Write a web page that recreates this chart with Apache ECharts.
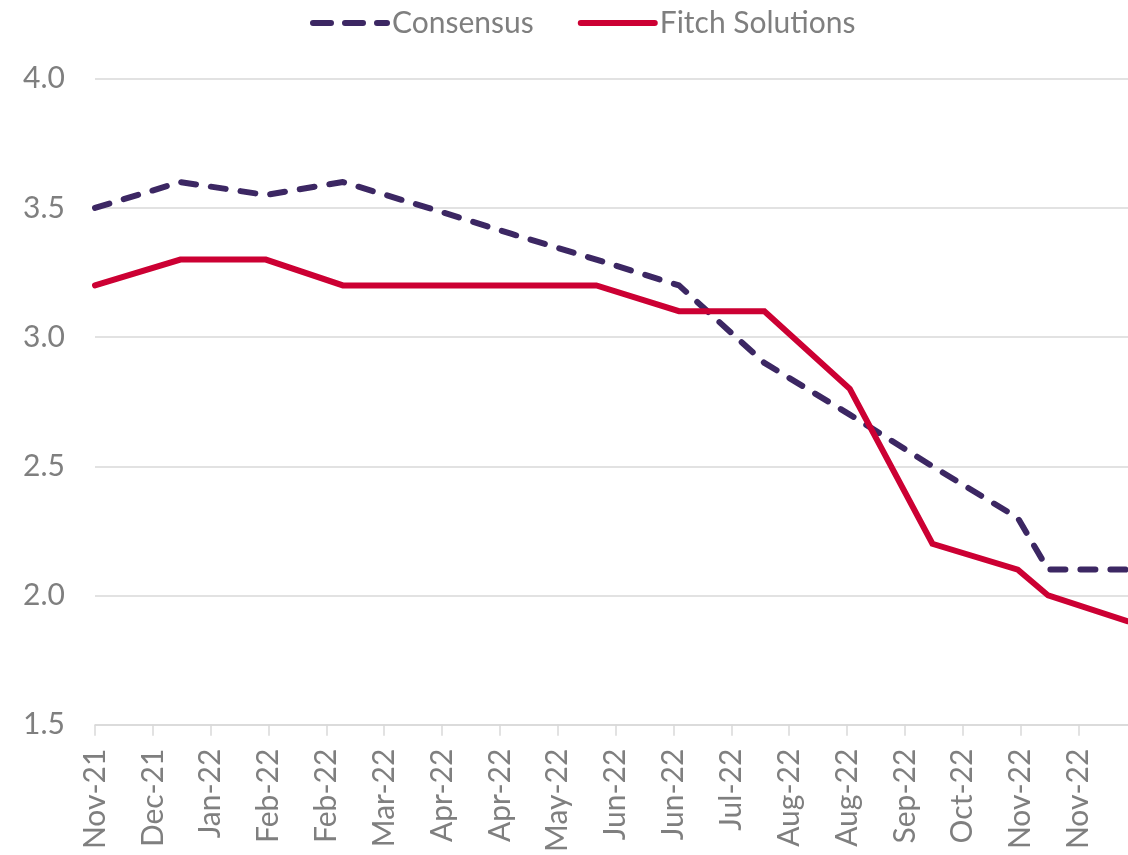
<!DOCTYPE html>
<html>
<head>
<meta charset="utf-8">
<script src="https://cdn.jsdelivr.net/npm/echarts@6/dist/echarts.min.js"></script>
<style>
html,body{margin:0;padding:0;background:#fff;}
#chart{width:1128px;height:855px;}
</style>
</head>
<body>
<div id="chart"></div>
<script>
// Axis ticks: one label every 21 days starting 30 Nov 2021
const startDate = '2021-11-30';
const tickStepDays = 21;
const tickLabels = ['Nov-21','Dec-21','Jan-22','Feb-22','Feb-22','Mar-22','Apr-22','Apr-22','May-22',
  'Jun-22','Jun-22','Jul-22','Aug-22','Aug-22','Sep-22','Oct-22','Nov-22','Nov-22'];
const yTicks = [1.5, 2.0, 2.5, 3.0, 3.5, 4.0];

const consensusDates = ['2021-11-30','2021-12-31','2022-01-31','2022-02-28','2022-03-31','2022-04-30',
  '2022-05-31','2022-06-30','2022-07-31','2022-08-31','2022-09-30','2022-10-31','2022-11-11','2022-12-10'];
const consensusValues = [3.5, 3.6, 3.55, 3.6, 3.5, 3.4, 3.3, 3.2, 2.9, 2.7, 2.5, 2.3, 2.1, 2.1];

const fitchDates = ['2021-11-30','2021-12-31','2022-01-31','2022-02-28','2022-03-31','2022-04-30',
  '2022-05-31','2022-06-30','2022-07-31','2022-08-31','2022-09-30','2022-10-31','2022-11-11','2022-12-10'];
const fitchValues = [3.2, 3.3, 3.3, 3.2, 3.2, 3.2, 3.2, 3.1, 3.1, 2.8, 2.2, 2.1, 2.0, 1.9];

const DAY = 86400000;
const t0 = Date.parse(startDate);
const toDay = d => Math.round((Date.parse(d) - t0) / DAY);
const pairs = (dates, vals) => dates.map((d, i) => [toDay(d), vals[i]]);
const tickValues = tickLabels.map((_, i) => i * tickStepDays);

const grey = '#7f7f7f';
const gridGrey = '#d9d9d9';
const purple = '#3c2763';
const red = '#cc0033';

const chart = echarts.init(document.getElementById('chart'));
chart.setOption({
  animation: false,
  textStyle: { fontFamily: 'Lato' },
  legend: {
    left: 305, top: 3,
    itemWidth: 74, itemHeight: 14, itemGap: 44,
    textStyle: { fontFamily: 'Lato', fontSize: 30, color: grey },
    data: [
      { name: 'Consensus', itemStyle: { opacity: 0 },
        lineStyle: { color: purple, width: 6, type: [18, 14], cap: 'round' } },
      { name: 'Fitch Solutions', itemStyle: { opacity: 0 },
        lineStyle: { color: red, width: 6, cap: 'round' } }
    ]
  },
  grid: { left: 95, right: 0, top: 78.7, bottom: 130, containLabel: false },
  xAxis: {
    type: 'value',
    min: 0,
    max: 'dataMax',
    interval: tickStepDays,
    splitLine: { show: false },
    axisLine: { show: true, lineStyle: { color: gridGrey, width: 1.5 } },
    axisTick: { show: true, inside: false, length: 11, customValues: tickValues,
      lineStyle: { color: gridGrey, width: 1.5 } },
    axisLabel: {
      customValues: tickValues,
      rotate: 90, margin: 24, fontSize: 30, fontFamily: 'Lato', color: grey,
      formatter: v => {
        const i = v / tickStepDays;
        return Number.isInteger(i) && i < tickLabels.length ? tickLabels[i] : '';
      }
    }
  },
  yAxis: {
    type: 'value',
    min: yTicks[0], max: yTicks[yTicks.length - 1], interval: 0.5,
    axisLine: { show: false },
    axisTick: { show: false },
    splitLine: { show: true, lineStyle: { color: gridGrey, width: 1.5 } },
    axisLabel: { margin: 30, fontSize: 30, fontFamily: 'Lato', color: grey,
      formatter: v => v.toFixed(1) }
  },
  series: [
    {
      name: 'Consensus', type: 'line', symbol: 'none',
      data: pairs(consensusDates, consensusValues),
      lineStyle: { color: purple, width: 6, type: [15, 15], cap: 'round', join: 'round' },
      itemStyle: { color: purple }
    },
    {
      name: 'Fitch Solutions', type: 'line', symbol: 'none',
      data: pairs(fitchDates, fitchValues),
      lineStyle: { color: red, width: 6, cap: 'round', join: 'miter' },
      itemStyle: { color: red }
    }
  ]
});
</script>
</body>
</html>
